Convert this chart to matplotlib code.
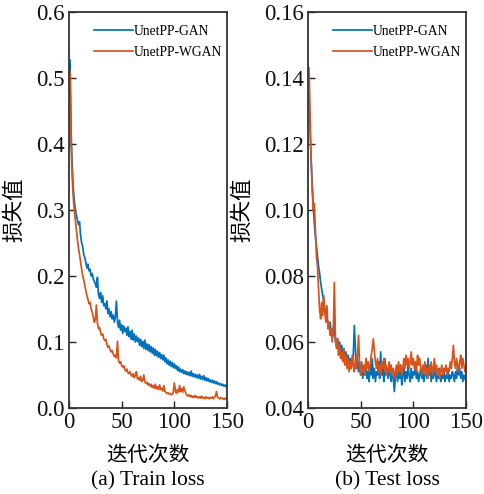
import matplotlib
matplotlib.use("Agg")
import matplotlib.pyplot as plt
import numpy as np

plt.rcParams['font.family'] = ['Liberation Serif', 'Noto Sans CJK SC']
plt.rcParams['axes.unicode_minus'] = False

epochs = list(range(1, 151))

train_gan = [
    0.527, 0.420, 0.370, 0.335, 0.315, 0.300, 0.292, 0.285, 0.278, 0.282,
    0.262, 0.250, 0.245, 0.232, 0.228, 0.220, 0.212, 0.218, 0.208, 0.210,
    0.200, 0.204, 0.196, 0.192, 0.188, 0.183, 0.198, 0.172, 0.166, 0.175,
    0.160, 0.170, 0.155, 0.158, 0.150, 0.162, 0.143, 0.150, 0.138, 0.146,
    0.135, 0.141, 0.130, 0.138, 0.162, 0.132, 0.122, 0.133, 0.118, 0.126,
    0.113, 0.124, 0.116, 0.121, 0.110, 0.123, 0.108, 0.116, 0.104, 0.118,
    0.103, 0.112, 0.100, 0.109, 0.101, 0.106, 0.095, 0.104, 0.093, 0.101,
    0.090, 0.103, 0.089, 0.097, 0.087, 0.096, 0.085, 0.093, 0.083, 0.091,
    0.080, 0.089, 0.079, 0.086, 0.077, 0.084, 0.075, 0.081, 0.073, 0.080,
    0.070, 0.076, 0.067, 0.073, 0.065, 0.071, 0.063, 0.069, 0.061, 0.067,
    0.060, 0.064, 0.057, 0.062, 0.055, 0.059, 0.054, 0.058, 0.052, 0.056,
    0.051, 0.055, 0.050, 0.054, 0.049, 0.056, 0.048, 0.052, 0.047, 0.051,
    0.046, 0.050, 0.045, 0.051, 0.044, 0.048, 0.043, 0.049, 0.042, 0.046,
    0.041, 0.045, 0.040, 0.043, 0.039, 0.042, 0.038, 0.041, 0.037, 0.040,
    0.036, 0.038, 0.035, 0.037, 0.034, 0.036, 0.033, 0.035, 0.032, 0.034,
]

train_wgan = [
    0.510, 0.400, 0.350, 0.320, 0.300, 0.285, 0.270, 0.255, 0.242, 0.232,
    0.222, 0.210, 0.200, 0.194, 0.186, 0.178, 0.170, 0.165, 0.158, 0.160,
    0.150, 0.145, 0.138, 0.130, 0.134, 0.156, 0.128, 0.120, 0.122, 0.114,
    0.110, 0.112, 0.105, 0.102, 0.104, 0.096, 0.092, 0.094, 0.088, 0.085,
    0.087, 0.082, 0.078, 0.080, 0.076, 0.101, 0.072, 0.068, 0.070, 0.064,
    0.062, 0.064, 0.058, 0.056, 0.059, 0.053, 0.052, 0.055, 0.050, 0.048,
    0.052, 0.046, 0.049, 0.055, 0.044, 0.046, 0.042, 0.048, 0.040, 0.042,
    0.050, 0.040, 0.037, 0.039, 0.035, 0.037, 0.033, 0.036, 0.031, 0.034,
    0.030, 0.036, 0.029, 0.032, 0.028, 0.035, 0.028, 0.030, 0.026, 0.034,
    0.025, 0.024, 0.022, 0.023, 0.021, 0.022, 0.020, 0.021, 0.024, 0.038,
    0.026, 0.022, 0.028, 0.024, 0.034, 0.025, 0.030, 0.024, 0.032, 0.026,
    0.022, 0.019, 0.018, 0.020, 0.017, 0.019, 0.016, 0.018, 0.016, 0.019,
    0.016, 0.017, 0.015, 0.017, 0.015, 0.018, 0.015, 0.016, 0.014, 0.017,
    0.015, 0.016, 0.014, 0.016, 0.015, 0.017, 0.014, 0.016, 0.018, 0.025,
    0.017, 0.015, 0.014, 0.016, 0.014, 0.015, 0.013, 0.015, 0.013, 0.014,
]

test_gan = [
    0.135, 0.124, 0.115, 0.108, 0.101, 0.096, 0.092, 0.089, 0.086, 0.083,
    0.081, 0.078, 0.076, 0.074, 0.072, 0.070, 0.068, 0.067, 0.066, 0.064,
    0.066, 0.063, 0.064, 0.062, 0.068, 0.060, 0.059, 0.061, 0.058, 0.060,
    0.057, 0.059, 0.056, 0.058, 0.055, 0.057, 0.054, 0.056, 0.053, 0.055,
    0.052, 0.054, 0.056, 0.065, 0.058, 0.052, 0.055, 0.051, 0.054, 0.050,
    0.053, 0.049, 0.052, 0.050, 0.054, 0.049, 0.051, 0.048, 0.053, 0.050,
    0.055, 0.049, 0.052, 0.048, 0.051, 0.050, 0.054, 0.049, 0.057, 0.050,
    0.052, 0.048, 0.055, 0.050, 0.052, 0.049, 0.053, 0.050, 0.048, 0.051,
    0.049, 0.045, 0.050, 0.052, 0.048, 0.051, 0.049, 0.053, 0.047, 0.050,
    0.052, 0.048, 0.051, 0.049, 0.053, 0.050, 0.048, 0.052, 0.049, 0.051,
    0.050, 0.053, 0.049, 0.051, 0.048, 0.050, 0.052, 0.049, 0.051, 0.048,
    0.050, 0.053, 0.049, 0.055, 0.050, 0.052, 0.048, 0.051, 0.049, 0.052,
    0.050, 0.048, 0.051, 0.049, 0.052, 0.048, 0.050, 0.049, 0.051, 0.048,
    0.050, 0.049, 0.051, 0.048, 0.050, 0.049, 0.051, 0.050, 0.048, 0.051,
    0.049, 0.053, 0.050, 0.052, 0.049, 0.051, 0.048, 0.050, 0.049, 0.048,
]

test_wgan = [
    0.143, 0.128, 0.115, 0.106, 0.100, 0.102, 0.094, 0.086, 0.083, 0.076,
    0.070, 0.067, 0.072, 0.068, 0.074, 0.069, 0.066, 0.071, 0.064, 0.066,
    0.062, 0.064, 0.060, 0.063, 0.078, 0.062, 0.058, 0.061, 0.056, 0.059,
    0.055, 0.057, 0.054, 0.058, 0.053, 0.056, 0.052, 0.055, 0.051, 0.054,
    0.052, 0.056, 0.053, 0.051, 0.055, 0.052, 0.056, 0.062, 0.053, 0.050,
    0.054, 0.051, 0.053, 0.050, 0.055, 0.052, 0.054, 0.051, 0.053, 0.056,
    0.058, 0.061, 0.057, 0.054, 0.052, 0.055, 0.051, 0.053, 0.050, 0.054,
    0.052, 0.055, 0.051, 0.053, 0.050, 0.052, 0.054, 0.051, 0.053, 0.050,
    0.052, 0.049, 0.051, 0.053, 0.050, 0.054, 0.051, 0.053, 0.050, 0.052,
    0.055, 0.052, 0.056, 0.053, 0.055, 0.052, 0.054, 0.057, 0.053, 0.055,
    0.052, 0.054, 0.051, 0.056, 0.053, 0.055, 0.052, 0.050, 0.053, 0.051,
    0.054, 0.050, 0.052, 0.049, 0.053, 0.051, 0.054, 0.050, 0.052, 0.055,
    0.051, 0.053, 0.050, 0.052, 0.049, 0.051, 0.053, 0.050, 0.052, 0.051,
    0.053, 0.050, 0.052, 0.051, 0.054, 0.052, 0.055, 0.059, 0.054, 0.052,
    0.055, 0.053, 0.051, 0.054, 0.056, 0.052, 0.055, 0.053, 0.051, 0.052,
]

series_names = ['UnetPP-GAN', 'UnetPP-WGAN']
colors = ['#0072BD', '#D95319']
captions = ['(a) Train loss', '(b) Test loss']
xlabel = '迭代次数'
ylabel = '损失值'
xticks = [0, 50, 100, 150]
yticks_a = [0.0, 0.1, 0.2, 0.3, 0.4, 0.5, 0.6]
yticks_b = [0.04, 0.06, 0.08, 0.10, 0.12, 0.14, 0.16]

W, H = 485, 494
AX_TOP, AX_BOT = 12, 408
fig = plt.figure(figsize=(W / 100, H / 100), dpi=100)

def make_ax(left_px, data, yticks, fmt, ylab_x):
    ax = fig.add_axes([left_px / W, (H - AX_BOT) / H, 158 / W, (AX_BOT - AX_TOP) / H])
    for vals, c, n in zip(data, colors, series_names):
        ax.plot(epochs, vals, color=c, lw=1.25, label=n)
    ax.set_xlim(0, 150)
    ax.set_ylim(yticks[0], yticks[-1])
    ax.set_xticks(xticks)
    ax.set_yticks(yticks)
    ax.set_yticklabels([fmt.format(v) for v in yticks])
    ax.tick_params(direction='in', length=5, width=1.0, labelsize=16.5,
                   colors='#222222', labelcolor='#111111', pad=3)
    for s in ax.spines.values():
        s.set_linewidth(1.3)
        s.set_color('#333333')
    ax.set_xlabel(xlabel, fontsize=15, family='Noto Sans CJK SC', labelpad=7.5)
    ax.set_ylabel(ylabel, fontsize=15.5, family='Noto Sans CJK SC')
    ymid = 1 - (AX_TOP + AX_BOT) / 2 / H
    ax.yaxis.set_label_coords(ylab_x, ymid, transform=fig.transFigure)
    ax.legend(loc='upper right', bbox_to_anchor=(1.0, 1 - 8 / 396),
              frameon=False, fontsize=9.8, handlelength=2.9,
              handletextpad=0.05, labelspacing=0.62, borderaxespad=0.0,
              borderpad=0.35)
    return ax

ax1 = make_ax(69, [train_gan, train_wgan], yticks_a, '{:.1f}', 25 / W)
ax2 = make_ax(308, [test_gan, test_wgan], yticks_b, '{:.2f}', 253 / W)

fig.text(148 / W, 1 - 481 / H, captions[0], ha='center', va='center', fontsize=15.5)
fig.text(387 / W, 1 - 481 / H, captions[1], ha='center', va='center', fontsize=15.5)

fig.savefig('out.png', dpi=100)
